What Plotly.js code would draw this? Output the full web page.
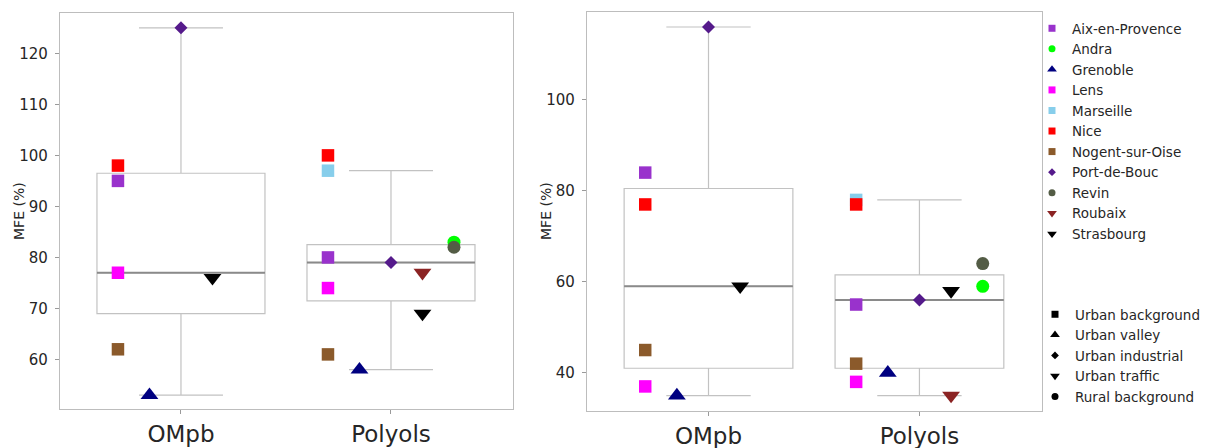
<!DOCTYPE html>
<html>
<head>
<meta charset="utf-8">
<script src="https://cdn.plot.ly/plotly-3.0.1.min.js"></script>
<style>html,body{margin:0;padding:0;background:#fff;}#chart{width:1217px;height:448px;}</style>
</head>
<body>
<div id="chart"></div>
<script>
// ---------- data ----------
const categories = ['OMpb', 'Polyols'];
const cities = ['Aix-en-Provence', 'Andra', 'Grenoble', 'Lens', 'Marseille', 'Nice',
  'Nogent-sur-Oise', 'Port-de-Bouc', 'Revin', 'Roubaix', 'Strasbourg'];
const cityTypes = ['Urban background', 'Rural background', 'Urban valley', 'Urban background',
  'Urban background', 'Urban background', 'Urban background', 'Urban industrial',
  'Rural background', 'Urban traffic', 'Urban traffic'];
const siteTypes = ['Urban background', 'Urban valley', 'Urban industrial', 'Urban traffic', 'Rural background'];

// MFE (%) per city, left panel
const leftOMpb    = [95, null, 53, 77, null, 98, 62, 125, null, null, 76];
const leftPolyols = [80, 83, 58, 74, 97, 100, 61, 79, 82, 77, 69];
// MFE (%) per city, right panel
const rightOMpb    = [84, null, 35, 37, null, 77, 45, 116, null, null, 59];
const rightPolyols = [55, 59, 40, 38, 78, 77, 42, 56, 64, 35, 58];

const leftTicks = [60, 70, 80, 90, 100, 110, 120];
const rightTicks = [40, 60, 80, 100];
const yTitle = 'MFE (%)';

// ---------- styles ----------
const cityColors = ['#9932CC', '#00FF00', '#000080', '#FF00FF', '#87CEEB', '#FF0000',
  '#8B5A2B', '#551A8B', '#535c45', '#8B2323', '#000000'];
const typeStyle = {
  'Urban background': {symbol: 'square', size: 12.5, lsize: 7, off: -0.3},
  'Urban valley': {symbol: 'triangle-up', size: 15.5, lsize: 8.5, off: -0.15},
  'Urban industrial': {symbol: 'diamond', size: 10, lsize: 6, off: 0},
  'Urban traffic': {symbol: 'triangle-down', size: 15.5, lsize: 8.5, off: 0.15},
  'Rural background': {symbol: 'circle', size: 13, lsize: 7, off: 0.3}
};
const FONT = 'DejaVu Sans, Verdana, sans-serif';
const TXT = '#262626';
const W = 1217, H = 448;

function median(arr) {
  const s = arr.slice().sort((a, b) => a - b);
  const n = s.length;
  return n % 2 ? s[(n - 1) / 2] : (s[n / 2 - 1] + s[n / 2]) / 2;
}

const traces = [];
const panels = [
  {xa: 'x', ya: 'y', series: [leftOMpb, leftPolyols]},
  {xa: 'x2', ya: 'y2', series: [rightOMpb, rightPolyols]}
];

panels.forEach(p => {
  // boxes (statistics computed by Plotly from the values; outliers hidden)
  const bx = [], by = [];
  p.series.forEach((vals, ci) => vals.forEach(v => { if (v !== null) { bx.push(ci); by.push(v); } }));
  traces.push({
    type: 'box', x: bx, y: by, xaxis: p.xa, yaxis: p.ya,
    boxpoints: 'outliers', marker: {opacity: 0, size: 1},
    quartilemethod: 'inclusive', width: 0.8, whiskerwidth: 0.5,
    line: {color: '#c2c2c2', width: 1.2}, fillcolor: 'rgba(255,255,255,0)',
    showlegend: false, hoverinfo: 'skip'
  });
  // median lines
  p.series.forEach((vals, ci) => {
    const m = median(vals.filter(v => v !== null));
    traces.push({
      type: 'scatter', mode: 'lines', x: [ci - 0.4, ci + 0.4], y: [m, m],
      xaxis: p.xa, yaxis: p.ya, line: {color: '#8a8a8a', width: 2},
      showlegend: false, hoverinfo: 'skip'
    });
  });
  // city markers
  cities.forEach((c, i) => {
    const st = typeStyle[cityTypes[i]];
    const xs = [], ys = [];
    p.series.forEach((vals, ci) => { if (vals[i] !== null) { xs.push(ci + st.off); ys.push(vals[i]); } });
    traces.push({
      type: 'scatter', mode: 'markers', x: xs, y: ys, name: c,
      xaxis: p.xa, yaxis: p.ya,
      marker: {symbol: st.symbol, size: st.size, color: cityColors[i], line: {width: 0}},
      showlegend: false
    });
  });
});

// legend entries: cities
cities.forEach((c, i) => {
  const st = typeStyle[cityTypes[i]];
  traces.push({
    type: 'scatter', mode: 'markers', x: [null], y: [null], name: c, legend: 'legend',
    marker: {symbol: st.symbol, size: st.lsize, color: cityColors[i]},
    showlegend: true, hoverinfo: 'skip'
  });
});
// legend entries: site types
siteTypes.forEach(t => {
  const st = typeStyle[t];
  traces.push({
    type: 'scatter', mode: 'markers', x: [null], y: [null], name: t, legend: 'legend2',
    marker: {symbol: st.symbol, size: st.lsize, color: '#000'},
    showlegend: true, hoverinfo: 'skip'
  });
});

function xaxis(domain) {
  return {
    domain: domain, range: [-0.576, 1.581], tickmode: 'array', tickvals: [0, 1], ticktext: categories,
    showline: true, mirror: true, linecolor: '#bdbdbd', linewidth: 1.2,
    ticks: 'outside', ticklen: 4, tickcolor: '#9a9a9a', tickwidth: 1,
    showgrid: false, zeroline: false, fixedrange: true,
    tickfont: {family: FONT, size: 23, color: TXT}
  };
}
function yaxis(domain, range, tv, anchor) {
  return {
    domain: domain, range: range, anchor: anchor, tickmode: 'array', tickvals: tv,
    showline: true, mirror: true, linecolor: '#bdbdbd', linewidth: 1.2,
    ticks: 'outside', ticklen: 4, tickcolor: '#9a9a9a', tickwidth: 1, ticklabelstandoff: 4,
    showgrid: false, zeroline: false, fixedrange: true,
    tickfont: {family: FONT, size: 15, color: TXT}
  };
}

function ytitle(xpx, ypx) {
  return {
    text: yTitle, xref: 'paper', yref: 'paper', x: xpx / W, y: 1 - ypx / H,
    xanchor: 'center', yanchor: 'middle', textangle: -90, showarrow: false,
    font: {family: FONT, size: 14, color: TXT}
  };
}

const layout = {
  width: W, height: H,
  margin: {l: 0, r: 0, t: 0, b: 0},
  paper_bgcolor: '#fff', plot_bgcolor: '#fff',
  font: {family: FONT, color: TXT},
  xaxis: Object.assign(xaxis([60 / W, 513 / W]), {anchor: 'y'}),
  yaxis: yaxis([1 - 409 / H, 1 - 13 / H], [50.3, 127.9], leftTicks, 'x'),
  xaxis2: Object.assign(xaxis([587 / W, 1042 / W]), {anchor: 'y2'}),
  yaxis2: yaxis([1 - 411 / H, 1 - 12 / H], [31.6, 119.3], rightTicks, 'x2'),
  annotations: [ytitle(19, 211), ytitle(546, 211)],
  legend: {
    x: 1032 / W, xanchor: 'left', y: 1 - 13 / H, yanchor: 'top',
    font: {family: FONT, size: 13.5, color: TXT}, itemwidth: 30,
    bgcolor: 'rgba(0,0,0,0)', borderwidth: 0, tracegroupgap: 0
  },
  legend2: {
    x: 1035 / W, xanchor: 'left', y: 1 - 299 / H, yanchor: 'top',
    font: {family: FONT, size: 13.5, color: TXT}, itemwidth: 30,
    bgcolor: 'rgba(0,0,0,0)', borderwidth: 0, tracegroupgap: 0
  },
  showlegend: true,
  hovermode: false
};

Plotly.newPlot('chart', traces, layout, {displayModeBar: false, staticPlot: true});
</script>
</body>
</html>
